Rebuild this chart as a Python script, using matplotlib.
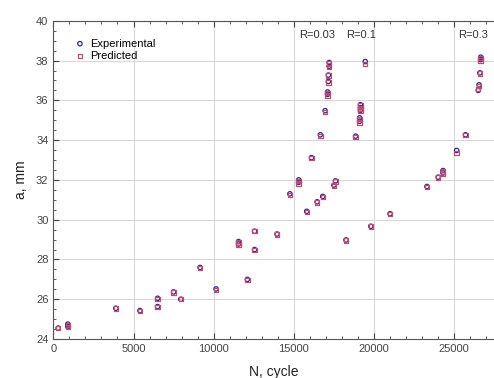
import matplotlib
matplotlib.use('Agg')
import matplotlib.pyplot as plt
from matplotlib.ticker import MultipleLocator

plt.rcParams['font.family'] = ['Liberation Sans', 'DejaVu Sans']

# crack length a (mm) vs number of cycles N
n_cycle = [300, 900, 900, 3900, 5400, 6500, 6500, 7500, 7950, 9150, 10150,
           11550, 11550, 12100, 12550, 12550, 13950, 14750, 15300, 15300,
           15800, 16100, 16450, 16650, 16800, 16950, 17100, 17100, 17150,
           17150, 17200, 17200, 17500, 17600,
           18250, 18850, 19100, 19100, 19150, 19150, 19150, 19450,
           19800, 21000, 23300, 24000, 24300, 24300, 25150, 25700,
           26500, 26550, 26600, 26650, 26650]
a_exp = [24.55, 24.75, 24.62, 25.55, 25.43, 26.05, 25.63, 26.37, 26.0, 27.6,
         26.52, 28.9, 28.78, 27.0, 29.42, 28.5, 29.28, 31.3, 32.0, 31.88,
         30.42, 33.12, 30.9, 34.27, 31.17, 35.48, 36.3, 36.42, 36.95,
         37.27, 37.72, 37.9, 31.74, 31.95,
         28.98, 34.2, 35.12, 34.95, 35.5, 35.63, 35.78, 37.95,
         29.67, 30.3, 31.67, 32.14, 32.47, 32.35, 33.48, 34.27,
         36.5, 36.78, 37.38, 38.05, 38.17]
a_pred = [24.55, 24.72, 24.6, 25.53, 25.4, 26.0, 25.6, 26.35, 26.0, 27.56,
          26.48, 28.85, 28.73, 26.97, 29.42, 28.47, 29.25, 31.25, 31.95, 31.83,
          30.38, 33.1, 30.87, 34.22, 31.15, 35.43, 36.25, 36.38, 36.9,
          37.25, 37.68, 37.85, 31.72, 31.92,
          28.96, 34.15, 35.05, 34.88, 35.45, 35.6, 35.75, 37.82,
          29.65, 30.28, 31.65, 32.12, 32.42, 32.3, 33.35, 34.25,
          36.58, 36.72, 37.36, 38.0, 38.12]

r_labels = ['R=0.03', 'R=0.1', 'R=0.3']
r_label_x = [15320, 18250, 25230]

fig = plt.figure(figsize=(4.94, 3.78), dpi=100)
ax = fig.add_axes([0.108, 0.103, 0.892, 0.842])

ax.scatter(n_cycle, a_exp, s=10, marker='o', facecolors='none',
           edgecolors='#1f2a9c', linewidths=0.9, label='Experimental', zorder=3)
ax.scatter(n_cycle, a_pred, s=10, marker='s', facecolors='none',
           edgecolors='#c84a6a', linewidths=0.9, label='Predicted', zorder=3)

for txt, xx in zip(r_labels, r_label_x):
    ax.text(xx, 39.28, txt, fontsize=8, color='#333333', ha='left', va='center')

ax.set_xlim(0, 27480)
ax.set_ylim(24, 40)
ax.xaxis.set_major_locator(MultipleLocator(5000))
ax.xaxis.set_minor_locator(MultipleLocator(1000))
ax.yaxis.set_major_locator(MultipleLocator(2))
ax.yaxis.set_minor_locator(MultipleLocator(0.5))
ax.tick_params(which='both', direction='in', top=True, colors='#444444',
               labelsize=8)
ax.tick_params(which='major', length=4)
ax.tick_params(which='minor', length=2)
ax.spines['right'].set_visible(False)
for s in ['left', 'bottom', 'top']:
    ax.spines[s].set_color('#555555')
ax.grid(True, which='major', color='#d8d8d8', linewidth=0.8)
ax.set_axisbelow(True)

ax.set_xlabel('N, cycle', fontsize=10, color='#222222', labelpad=8)
ax.set_ylabel('a, mm', fontsize=10, color='#222222', labelpad=6)

ax.legend(loc='upper left', bbox_to_anchor=(0.03, 0.965), frameon=False,
          fontsize=8, handletextpad=0.3, borderaxespad=0.2,
          labelspacing=0.2, handlelength=1.2)

fig.savefig('out.png', dpi=100)
